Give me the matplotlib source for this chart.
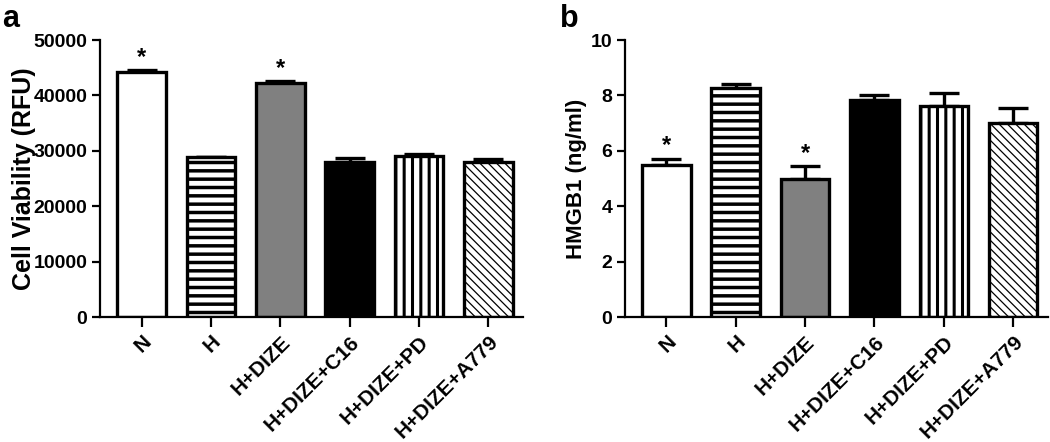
import numpy as np
import matplotlib
matplotlib.use('Agg')
import matplotlib.pyplot as plt

plt.rcParams['font.family'] = ['Liberation Sans', 'DejaVu Sans']
plt.rcParams['font.weight'] = 'bold'

groups = ['N', 'H', 'H+DIZE', 'H+DIZE+C16', 'H+DIZE+PD', 'H+DIZE+A779']
fills = ['white', 'white', '#808080', 'black', 'white', 'white']
hatches = [None, '--', None, None, '||', '\\\\\\\\']
hatch_lw = [2.5, 2.5, 2.5, 2.5, 2.2, 0.9]

viability = [44300, 28800, 42200, 27900, 29000, 27900]
viability_err = [300, 150, 350, 800, 450, 700]
viability_star = [True, False, True, False, False, False]

hmgb1 = [5.5, 8.28, 4.97, 7.85, 7.6, 7.0]
hmgb1_err = [0.22, 0.12, 0.47, 0.17, 0.5, 0.55]
hmgb1_star = [True, False, True, False, False, False]


def draw_panel(ax, vals, errs, stars, ymax, ystep, ylabel, ylabel_size):
    x = np.arange(len(groups))
    for i in range(len(groups)):
        plt.rcParams['hatch.linewidth'] = hatch_lw[i]
        ax.bar(x[i], vals[i], width=0.7, color=fills[i], edgecolor='black',
               linewidth=2.4, hatch=hatches[i], zorder=2)
    ax.errorbar(x, vals, yerr=[np.zeros(len(vals)), errs], fmt='none',
                ecolor='black', elinewidth=2.4, capsize=11, capthick=2.4, zorder=1)
    for i in range(len(groups)):
        if stars[i]:
            ax.text(x[i], vals[i] + errs[i] + ymax * 0.005, '*', ha='center',
                    va='bottom', fontsize=17, fontweight='bold')
    ax.set_xlim(-0.6, 5.5)
    ax.set_ylim(0, ymax)
    ax.set_yticks(np.arange(0, ymax + ystep / 2, ystep))
    ax.set_xticks(x)
    ax.set_xticklabels(groups, rotation=45, ha='right', rotation_mode='anchor',
                       fontsize=15, fontweight='bold')
    for lab in ax.get_yticklabels():
        lab.set_fontsize(14)
        lab.set_fontweight('bold')
    ax.set_ylabel(ylabel, fontsize=ylabel_size, fontweight='bold')
    ax.spines['top'].set_visible(False)
    ax.spines['right'].set_visible(False)
    ax.spines['left'].set_linewidth(1.6)
    ax.spines['bottom'].set_linewidth(1.6)
    ax.tick_params(axis='y', direction='out', length=6, width=1.6, pad=3)
    ax.tick_params(axis='x', direction='out', length=7, width=1.6, pad=4)


fig = plt.figure(figsize=(10.5, 4.42), dpi=100)
ax1 = fig.add_axes([0.0952, 0.2828, 0.403, 0.6267])
ax2 = fig.add_axes([0.595, 0.2828, 0.403, 0.6267])

draw_panel(ax1, viability, viability_err, viability_star, 50000, 10000,
           'Cell Viability (RFU)', 18)
draw_panel(ax2, hmgb1, hmgb1_err, hmgb1_star, 10, 2, 'HMGB1 (ng/ml)', 16)
ax1.yaxis.set_label_coords(-0.152, 0.5)
ax2.yaxis.set_label_coords(-0.09, 0.5)

fig.text(0.002, 0.99, 'a', fontsize=22, fontweight='bold', va='top')
fig.text(0.533, 0.99, 'b', fontsize=22, fontweight='bold', va='top')

fig.savefig('out.png', dpi=100)
